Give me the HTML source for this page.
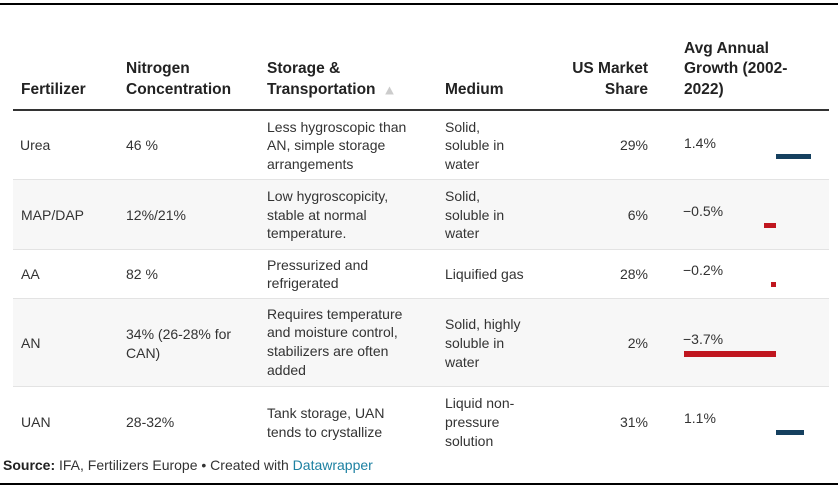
<!DOCTYPE html>
<html>
<head>
<meta charset="utf-8">
<style>
  html,body{margin:0;padding:0;}
  body{width:838px;height:487px;position:relative;overflow:hidden;background:#fff;
       font-family:"Liberation Sans",Arial,sans-serif;color:#333;}
  .a{position:absolute;white-space:nowrap;}
  .h{font-weight:bold;font-size:15.5px;line-height:20.85px;color:#222;}
  .b{font-size:14px;line-height:18.8px;color:#333;}
  .r{text-align:right;}
  .line{position:absolute;}
  .bar{position:absolute;height:5px;}
  .pos{background:#15405f;}
  .neg{background:#c0161f;}
</style>
</head>
<body>
<!-- top rule -->
<div class="line" style="left:0;top:3px;width:838px;height:2px;background:#000;"></div>

<!-- header -->
<div class="a h" style="left:21px;top:80.2px;">Fertilizer</div>
<div class="a h" style="left:126px;top:59.35px;">Nitrogen<br>Concentration</div>
<div class="a h" style="left:267px;top:59.35px;">Storage &amp;<br>Transportation</div>
<svg class="a" style="left:385px;top:86px;" width="9" height="9" viewBox="0 0 9 9"><polygon points="4.5,0.5 8.8,8.5 0.2,8.5" fill="#cccccc"/></svg>
<div class="a h" style="left:445px;top:80.2px;">Medium</div>
<div class="a h r" style="right:190px;top:59.35px;">US Market<br>Share</div>
<div class="a h" style="left:684px;top:38.5px;">Avg Annual<br>Growth (2002-<br>2022)</div>

<div class="line" style="left:13px;top:109px;width:816px;height:2px;background:#333;"></div>

<!-- row backgrounds -->
<div class="line" style="left:13px;top:180px;width:816px;height:69px;background:#f7f7f7;"></div>
<div class="line" style="left:13px;top:299px;width:816px;height:87px;background:#f7f7f7;"></div>
<!-- separators -->
<div class="line" style="left:13px;top:179px;width:816px;height:1px;background:#e3e3e3;"></div>
<div class="line" style="left:13px;top:248.5px;width:816px;height:1px;background:#e3e3e3;"></div>
<div class="line" style="left:13px;top:298px;width:816px;height:1px;background:#e3e3e3;"></div>
<div class="line" style="left:13px;top:386px;width:816px;height:1px;background:#e3e3e3;"></div>

<!-- Urea -->
<div class="a b" style="left:20px;top:136.3px;">Urea</div>
<div class="a b" style="left:126px;top:136.3px;">46 %</div>
<div class="a b" style="left:267px;top:117.5px;">Less hygroscopic than<br>AN, simple storage<br>arrangements</div>
<div class="a b" style="left:445px;top:117.5px;">Solid,<br>soluble in<br>water</div>
<div class="a b r" style="right:190px;top:136.3px;">29%</div>
<div class="a b" style="left:684px;top:133.6px;">1.4%</div>
<div class="bar pos" style="left:776px;top:153.5px;width:35px;"></div>

<!-- MAP/DAP -->
<div class="a b" style="left:21px;top:205.6px;">MAP/DAP</div>
<div class="a b" style="left:126px;top:205.6px;">12%/21%</div>
<div class="a b" style="left:267px;top:186.8px;">Low hygroscopicity,<br>stable at normal<br>temperature.</div>
<div class="a b" style="left:445px;top:186.8px;">Solid,<br>soluble in<br>water</div>
<div class="a b r" style="right:190px;top:205.6px;">6%</div>
<div class="a b" style="left:683px;top:202.3px;">−0.5%</div>
<div class="bar neg" style="left:763.5px;top:223px;width:12.5px;"></div>

<!-- AA -->
<div class="a b" style="left:21px;top:264.9px;">AA</div>
<div class="a b" style="left:126px;top:264.9px;">82 %</div>
<div class="a b" style="left:267px;top:255.7px;">Pressurized and<br>refrigerated</div>
<div class="a b" style="left:445px;top:264.9px;">Liquified gas</div>
<div class="a b r" style="right:190px;top:264.9px;">28%</div>
<div class="a b" style="left:683px;top:261.3px;">−0.2%</div>
<div class="bar neg" style="left:771px;top:282px;width:5px;"></div>

<!-- AN -->
<div class="a b" style="left:21px;top:333.6px;">AN</div>
<div class="a b" style="left:126px;top:325.2px;">34% (26-28% for<br>CAN)</div>
<div class="a b" style="left:267px;top:304.6px;">Requires temperature<br>and moisture control,<br>stabilizers are often<br>added</div>
<div class="a b" style="left:445px;top:315.1px;">Solid, highly<br>soluble in<br>water</div>
<div class="a b r" style="right:190px;top:333.6px;">2%</div>
<div class="a b" style="left:683px;top:329.6px;">−3.7%</div>
<div class="bar neg" style="left:683.5px;top:351px;width:92.5px;height:5.5px;"></div>

<!-- UAN -->
<div class="a b" style="left:21px;top:412.9px;">UAN</div>
<div class="a b" style="left:126px;top:412.9px;">28-32%</div>
<div class="a b" style="left:267px;top:404.2px;">Tank storage, UAN<br>tends to crystallize</div>
<div class="a b" style="left:445px;top:394.1px;">Liquid non-<br>pressure<br>solution</div>
<div class="a b r" style="right:190px;top:412.9px;">31%</div>
<div class="a b" style="left:684px;top:408.9px;">1.1%</div>
<div class="bar pos" style="left:776px;top:430px;width:27.5px;"></div>

<!-- source -->
<div class="a b" style="left:3px;top:455.6px;color:#333;"><b style="color:#222;">Source:</b> IFA, Fertilizers Europe • Created with <span style="color:#1d81a2;">Datawrapper</span></div>

<!-- bottom rule -->
<div class="line" style="left:0;top:483px;width:838px;height:2px;background:#000;"></div>
</body>
</html>
